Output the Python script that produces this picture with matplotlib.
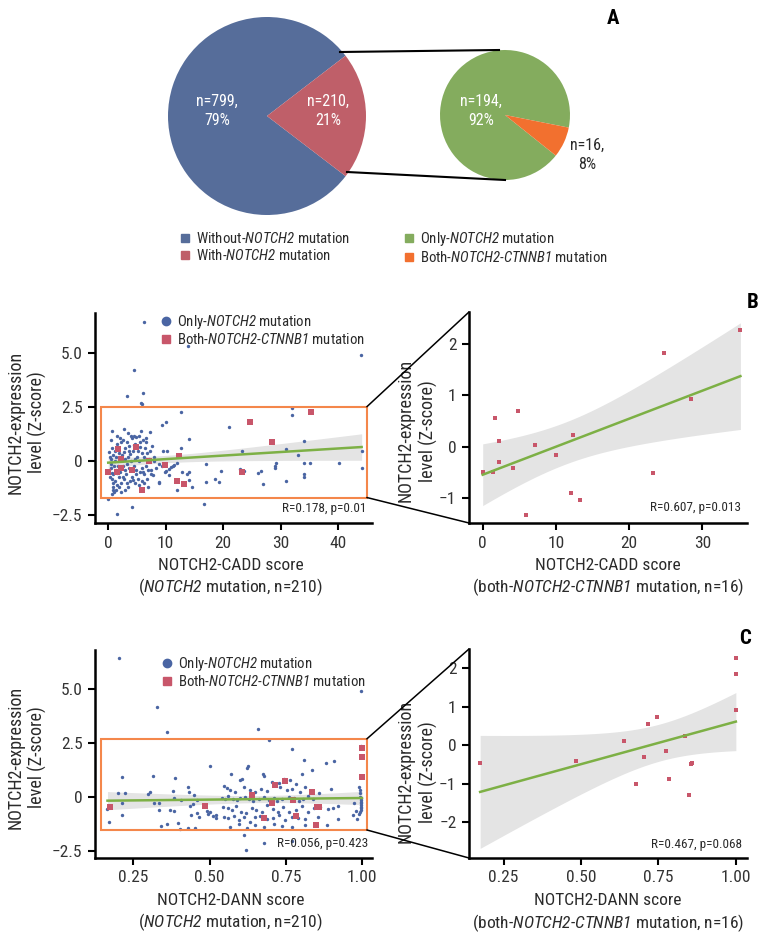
import numpy as np
import matplotlib
matplotlib.use('Agg')
import matplotlib.pyplot as plt
from matplotlib.patches import Rectangle, ConnectionPatch
from matplotlib.lines import Line2D

plt.rcParams['font.family'] = ['Roboto Condensed', 'DejaVu Sans']
plt.rcParams['mathtext.fontset'] = 'custom'
# digits inside \mathit fall back to the rm slot, so point it at the italic face too
plt.rcParams['mathtext.rm'] = 'Roboto Condensed:italic'
plt.rcParams['mathtext.it'] = 'Roboto Condensed:italic'
plt.rcParams['mathtext.bf'] = 'Roboto Condensed:bold'

# ---- panel A : pie data ----
pie_all_n = [799, 210]          # without / with NOTCH2 mutation
pie_sub_n = [194, 16]           # only NOTCH2 / both NOTCH2-CTNNB1
pie_legend = ['Without-$\\mathit{NOTCH2}$ mutation', 'With-$\\mathit{NOTCH2}$ mutation',
              'Only-$\\mathit{NOTCH2}$ mutation', 'Both-$\\mathit{NOTCH2}$-$\\mathit{CTNNB1}$ mutation']

# ---- panel B : CADD score vs expression (only-NOTCH2) ----
cadd_only_x = [0.2, 0.3, 0.4, 0.5, 0.6, 0.7, 0.8, 0.9, 1.0, 0.6, 0.8, 0.3, 0.5, 0.9, 0.7, 0.4, 1.0, 0.2, 0.6, 0.9,
               1.2, 1.3, 1.4, 1.5, 1.6, 1.7, 1.8, 1.9, 1.1, 1.3, 1.6, 1.9, 1.5, 1.2, 1.8,
               2.1, 2.2, 2.3, 2.4, 2.5, 2.6, 2.7, 2.8, 2.9, 3.0, 2.2, 2.5, 2.9, 2.0, 2.7,
               3.1, 3.2, 3.3, 3.4, 3.5, 3.6, 3.7, 3.8, 3.9, 3.5, 3.2, 3.8, 3.0, 3.6,
               4.1, 4.2, 4.3, 4.4, 4.5, 4.6, 4.7, 4.8, 4.9, 4.3, 4.6, 4.9, 4.0, 4.4,
               5.1, 5.2, 5.3, 5.4, 5.5, 5.6, 5.7, 5.8, 5.9, 5.3, 5.0, 5.5, 5.8,
               6.1, 6.2, 6.3, 6.4, 6.5, 6.6, 6.7, 6.8, 6.9, 6.2, 6.5, 6.0,
               7.1, 7.3, 7.5, 7.7, 7.9, 7.4, 7.8, 7.2, 8.0,
               8.3, 8.8, 9.6, 10.2, 9.3, 10.5, 11.2, 9.8,
               6.3, 13.8, 4.4, 3.3, 6.1, 5.7, 5.9, 12.6, 9.4, 10.0, 12.7, 14.0, 21.0, 32.0, 32.0, 34.1, 23.3, 30.9,
               33.1, 44.1, 44.0, 44.1, 40.1, 35.1, 34.1, 29.2, 29.1, 29.0, 34.1, 34.1, 30.9, 27.0, 26.5, 26.1,
               22.9, 23.6, 19.7, 18.5, 19.2, 17.0, 17.0, 16.6, 14.5, 14.0, 13.7, 14.0, 11.9, 11.4, 11.0, 12.9,
               11.9, 10.6, 10.1, 8.8, 8.8, 4.2, 0.0, 1.45, 7.0]
cadd_only_y = [0.45, 0.2, -0.1, -0.3, -0.55, -0.8, -1.0, -1.2, -1.4, -1.5, -1.3, -0.7, 0.1, 0.3, 1.4, 1.0, -0.2, -0.4, 0.6, -0.6,
               -0.9, 0.2, -0.4, 0.8, -1.1, -0.2, 0.4, -0.7, 0.5, -1.3, 1.2, -1.2, -0.55, 0.0, -0.35,
               -0.5, 0.9, -1.0, 0.3, -0.2, 1.0, -0.8, 1.5, -0.4, 0.6, -1.4, -0.7, 0.1, 1.1, 0.45,
               -0.6, 0.9, -1.0, 0.2, 1.3, -0.3, 0.7, -0.9, 1.2, -1.2, -0.1, 0.35, -1.3, 0.5,
               1.1, -0.7, 0.5, -0.2, 1.2, -1.0, 0.8, -0.4, 1.15, -0.85, 0.1, -0.6, 0.0, 0.75,
               0.5, -0.8, 1.2, 0.0, -0.5, 0.9, 1.4, -0.3, 0.4, -1.1, 0.2, 0.65, -0.9,
               1.0, 0.2, -0.6, 0.6, -0.2, 0.9, -0.8, 0.4, -0.4, -1.0, 1.1, -0.5,
               0.1, 1.35, -0.6, 0.7, 0.2, -0.4, -0.65, 0.5, 0.0,
               -0.3, -0.1, 0.5, 0.5, -0.2, -0.35, -0.2, -0.5,
               6.47, 5.35, 4.23, 3.02, 3.19, 2.69, 2.65, 2.27, 1.70, 1.81, 0.60, 1.05, 1.60, 2.47, 2.15, 0.93, 0.49, 0.56,
               0.29, 0.49, 4.92, -0.32, -0.06, -0.06, -0.06, -0.06, -0.22, -0.29, -0.56, -0.71, -0.91, -1.05, -0.45, -0.52,
               -0.37, -0.45, -0.43, -0.82, -0.97, -0.97, -0.14, -1.99, -1.17, -0.48, -0.56, -0.86, -0.09, -0.17, -0.25, -0.48,
               -1.30, -0.62, -0.43, -0.94, -1.02, -2.11, -1.74, -2.45, -1.17]
# both NOTCH2-CTNNB1
cadd_both_x = [0.0, 1.46, 1.74, 2.28, 2.19, 4.1, 4.89, 5.94, 7.08, 9.95, 12.4, 12.05, 13.24, 23.2, 24.7, 28.5, 35.2]
cadd_both_y = [-0.50, -0.50, 0.56, 0.10, -0.31, -0.41, 0.69, -1.33, 0.03, -0.16, 0.23, -0.90, -1.04, -0.51, 1.82, 0.92, 2.27]

# ---- panel C : DANN score vs expression ----
dann_only_x = [0.203, 0.328, 0.359, 0.660, 0.695, 0.772, 0.997, 0.996, 0.998, 0.810, 0.883, 0.908, 0.503, 0.627, 0.622,
               0.835, 0.802, 0.674, 0.678, 0.570, 0.315, 0.212, 0.385, 0.608, 0.601,
               0.200, 0.221, 0.298, 0.303, 0.380, 0.430, 0.434, 0.450, 0.212, 0.319, 0.334, 0.382, 0.405, 0.460, 0.165,
               0.437, 0.447, 0.212, 0.333, 0.371, 0.384, 0.440, 0.459, 0.466, 0.490, 0.495, 0.500, 0.510, 0.520, 0.520,
               0.170, 0.339, 0.361, 0.398, 0.403, 0.430, 0.453,
               0.705, 0.727, 0.743, 0.763, 0.782,
               0.546, 0.557, 0.568, 0.584, 0.612, 0.633, 0.650, 0.668, 0.688, 0.732, 0.754, 0.770, 0.798, 0.814, 0.860, 0.900,
               0.540, 0.551, 0.562, 0.576, 0.590, 0.600, 0.617, 0.631, 0.644, 0.661, 0.677, 0.694, 0.710, 0.720, 0.737,
               0.759, 0.778, 0.792, 0.808, 0.824, 0.841,
               0.544, 0.559, 0.573, 0.588, 0.603, 0.620, 0.639, 0.653, 0.672, 0.688, 0.707, 0.723, 0.742, 0.759, 0.784,
               0.802, 0.822, 0.842, 0.862,
               0.546, 0.562, 0.579, 0.598, 0.614, 0.633, 0.650, 0.666, 0.690, 0.708, 0.728, 0.748, 0.769, 0.791, 0.812, 0.855,
               0.568, 0.595, 0.622, 0.650, 0.680, 0.710, 0.738, 0.771, 0.812, 0.850, 0.885, 0.920,
               0.614, 0.620, 0.680, 0.770,
               0.990, 0.993, 0.995, 0.995, 0.996, 0.996, 0.996, 0.996, 0.996, 0.996, 0.996, 0.996, 0.994, 0.990, 0.985,
               0.980, 0.970, 0.975, 0.920, 0.905, 0.890]
dann_only_y = [6.41, 4.17, 2.98, 3.12, 2.61, 2.19, 4.89, 2.35, 2.28, 1.70, 1.58, 1.67, 1.44, 1.42, 1.33,
               1.24, 1.03, 1.07, 0.96, 1.07, 0.97, 0.93, 0.85, 0.84, 0.76,
               0.19, 0.16, 0.12, 0.20, 0.28, 0.44, 0.24, 0.06, -0.31, -0.28, -0.31, -0.06, -0.15, -0.14, -0.58,
               -0.43, -0.36, -0.83, -0.63, -0.63, -0.68, -0.85, -0.74, -0.96, -0.65, -0.78, -0.72, -0.90, -0.85, -1.00,
               -1.19, -1.36, -1.27, -1.21, -1.50, -1.43, -1.43,
               0.70, 0.64, 0.84, 0.77, 0.61,
               0.50, 0.40, 0.32, 0.24, 0.46, 0.33, 0.22, 0.38, 0.28, 0.46, 0.33, 0.38, 0.22, 0.46, 0.15, 0.35,
               -0.05, -0.12, 0.02, -0.09, -0.15, -0.05, 0.00, -0.09, -0.19, -0.09, 0.00, -0.15, -0.05, -0.22, -0.09,
               0.00, -0.05, -0.19, -0.09, 0.02, -0.09,
               -0.46, -0.54, -0.61, -0.43, -0.69, -0.77, -0.52, -0.63, -0.72, -0.40, -0.58, -0.69, -0.46, -0.72, -0.61,
               -0.43, -0.69, -0.54, -0.46,
               -0.93, -1.00, -0.89, -1.08, -0.96, -1.16, -0.93, -0.89, -1.05, -1.00, -0.86, -1.08, -0.93, -1.00, -1.05, -0.93,
               -1.39, -1.28, -1.46, -1.32, -1.39, -1.28, -1.36, -1.42, -1.33, -1.33, -1.31, -1.05,
               -1.79, -2.48, -2.13, -2.06,
               0.45, 0.30, 0.15, 0.00, -0.08, -0.15, -0.23, -0.31, -0.38, -0.46, -0.54, -0.61, -0.72, -0.82, -1.05,
               -0.65, -0.85, -0.30, -0.45, -0.50, -0.55]
dann_both_x = [0.174, 0.485, 0.639, 0.679, 0.704, 0.716, 0.746, 0.774, 0.783, 0.835, 0.848, 0.854, 0.859, 1.0, 1.0, 1.0]
dann_both_y = [-0.47, -0.41, 0.10, -1.00, -0.30, 0.56, 0.72, -0.14, -0.88, 0.23, -1.29, -0.49, -0.46, 2.26, 1.83, 0.91]

# stats shown on the plots
stat_text = ['R=0.178, p=0.01', 'R=0.607, p=0.013', 'R=0.056, p=0.423', 'R=0.467, p=0.068']

# colours
c_blue, c_red, c_green, c_orange = '#566D9A', '#BF5F69', '#84AC5E', '#F2702F'
c_dot = '#4A65A3'
c_sq = '#C8566A'
c_line = '#7DB045'
c_band = '#E4E4E4'
c_box = '#F4874B'
c_txt = '#2A2A2A'

W, H = 768, 941
fig = plt.figure(figsize=(W / 100, H / 100), dpi=100)


def box(l, t, r, b):
    return [l / W, 1 - b / H, (r - l) / W, (b - t) / H]


# ------------------------------------------------------------ panel A
ax0 = fig.add_axes(box(0, 0, W, 215))
ax0.pie(pie_all_n, colors=[c_blue, c_red], startangle=37.5, center=(267, 99), radius=99,
        wedgeprops=dict(linewidth=0))
ax0.pie(pie_sub_n, colors=[c_green, c_orange], startangle=-11.2, center=(505, 100), radius=65,
        wedgeprops=dict(linewidth=0))
ax0.set_xlim(0, W)
ax0.set_ylim(0, 215)
ax0.set_aspect('auto')
ax0.axis('off')
ax0.plot([340, 499], [215 - 52, 215 - 50], color='black', lw=1.5)
ax0.plot([347, 505], [215 - 172, 215 - 180], color='black', lw=1.5)

tot = sum(pie_all_n)
sub = sum(pie_sub_n)
lab_all = [f'n={n},\n{round(100 * n / tot)}%' for n in pie_all_n]
lab_sub = [f'n={n},\n{round(100 * n / sub)}%' for n in pie_sub_n]
pie_font = dict(ha='center', va='center', fontsize=11.5, linespacing=1.35)
ax0.text(217, 215 - 111, lab_all[0], color='white', **pie_font)
ax0.text(328, 215 - 111, lab_all[1], color='white', **pie_font)
ax0.text(481, 215 - 111, lab_sub[0], color='white', **pie_font)
ax0.text(587, 215 - 155, lab_sub[1], color=c_txt, **pie_font)
fig.text(613 / W, 1 - 18 / H, 'A', fontsize=15, fontweight='bold', ha='center', va='center')

pie_handles = [Line2D([], [], ls='', marker='s', ms=6, color=c) for c in [c_blue, c_red, c_green, c_orange]]
fig.legend(pie_handles, pie_legend, ncol=2, loc='upper left', bbox_to_anchor=(179 / W, 1 - 230 / H),
           frameon=False, fontsize=10.6, handlelength=0.8, handletextpad=0.35, columnspacing=3.6,
           labelspacing=0.12, borderpad=0, borderaxespad=0, labelcolor=c_txt)


# ------------------------------------------------------------ scatter panels
def fit_band(x, y, xs):
    x = np.asarray(x)
    y = np.asarray(y)
    n = len(x)
    b, a = np.polyfit(x, y, 1)
    res = y - (a + b * x)
    s = np.sqrt(np.sum(res ** 2) / (n - 2))
    sxx = np.sum((x - x.mean()) ** 2)
    se = s * np.sqrt(1 / n + (xs - x.mean()) ** 2 / sxx)
    t = 1.97 if n > 100 else 2.13
    yh = a + b * xs
    return yh, yh - t * se, yh + t * se


def style(ax, xlim, ylim, xticks, xtl, yticks, ytl):
    ax.set_xlim(*xlim)
    ax.set_ylim(*ylim)
    ax.set_xticks(xticks)
    ax.set_xticklabels(xtl)
    ax.set_yticks(yticks)
    ax.set_yticklabels(ytl)
    for s in ['top', 'right']:
        ax.spines[s].set_visible(False)
    for s in ['left', 'bottom']:
        ax.spines[s].set_linewidth(1.8)
    ax.tick_params(direction='out', length=5, width=1.5, labelsize=12.5, labelcolor='#333333', pad=4)


def scatter_left(ax, xo, yo, xb, yb):
    ax.scatter(xo, yo, s=6, color=c_dot, lw=0, zorder=3)
    ax.scatter(xb, yb, s=16, marker='s', color=c_sq, lw=0, zorder=3)
    xa = np.concatenate([xo, xb])
    ya = np.concatenate([yo, yb])
    xs = np.linspace(xa.min(), xa.max(), 100)
    yh, lo, hi = fit_band(xa, ya, xs)
    ax.fill_between(xs, lo, hi, color=c_band, lw=0, zorder=1)
    ax.plot(xs, yh, color=c_line, lw=1.8, zorder=4)
    h = [Line2D([], [], ls='', marker='o', ms=6, color=c_dot),
         Line2D([], [], ls='', marker='s', ms=5.5, color=c_sq)]
    return h


def scatter_right(ax, xb, yb):
    ax.scatter(xb, yb, s=7, marker='s', color=c_sq, lw=0, zorder=3)
    xb = np.asarray(xb)
    xs = np.linspace(xb.min(), xb.max(), 100)
    yh, lo, hi = fit_band(xb, yb, xs)
    ax.fill_between(xs, lo, hi, color=c_band, lw=0, zorder=1)
    ax.plot(xs, yh, color=c_line, lw=1.8, zorder=4)


ylab = 'NOTCH2-expression\nlevel (Z-score)'
leg_lab = ['Only-$\\mathit{NOTCH2}$ mutation', 'Both-$\\mathit{NOTCH2}$-$\\mathit{CTNNB1}$ mutation']
ylab_font = dict(fontsize=13, linespacing=1.25, color=c_txt)
xlab_font = dict(fontsize=12.5, linespacing=1.25, color=c_txt)
leg_font = dict(frameon=False, fontsize=10.6, handlelength=1.0, handletextpad=0.25, labelspacing=0.1,
                borderpad=0, borderaxespad=0, labelcolor=c_txt)
stat_size = 9.5

# B left
axB1 = fig.add_axes(box(95, 313, 372, 523))
h = scatter_left(axB1, cadd_only_x, cadd_only_y, cadd_both_x, cadd_both_y)
style(axB1, (-2.3, 45.9), (-2.85, 6.87), [0, 10, 20, 30, 40], ['0', '10', '20', '30', '40'],
      [-2.5, 0, 2.5, 5.0], ['\u22122.5', '0', '2.5', '5.0'])
rectB = Rectangle((-1.27, -1.67), 46.27, 4.2, fill=False, ec=c_box, lw=1.5, zorder=5)
axB1.add_patch(rectB)
axB1.legend(h, leg_lab, loc='upper left', bbox_to_anchor=(0.229, 1.0), **leg_font)
axB1.text(0.981, 0.038, stat_text[0], transform=axB1.transAxes, ha='right', va='bottom', fontsize=stat_size, color=c_txt)
axB1.set_ylabel(ylab, **ylab_font)
axB1.yaxis.set_label_coords(-0.172, 0.48)
axB1.set_xlabel('NOTCH2-CADD score\n($\\mathit{NOTCH2}$ mutation, n=210)', **xlab_font)
axB1.xaxis.set_label_coords(0.49, -0.165)

# B right
axB2 = fig.add_axes(box(469, 312, 747, 523))
scatter_right(axB2, cadd_both_x, cadd_both_y)
style(axB2, (-1.87, 36.1), (-1.49, 2.62), [0, 10, 20, 30], ['0', '10', '20', '30'],
      [-1, 0, 1, 2], ['\u22121', '0', '1', '2'])
axB2.text(0.978, 0.041, stat_text[1], transform=axB2.transAxes, ha='right', va='bottom', fontsize=stat_size, color=c_txt)
axB2.set_ylabel(ylab, **ylab_font)
axB2.yaxis.set_label_coords(-0.112, 0.437)
axB2.set_xlabel('NOTCH2-CADD score\n(both-$\\mathit{NOTCH2}$-$\\mathit{CTNNB1}$ mutation, n=16)', **xlab_font)
axB2.xaxis.set_label_coords(0.5, -0.165)
fig.text(753 / W, 1 - 303 / H, 'B', fontsize=15, fontweight='bold', ha='center', va='center')

for xy_a, xy_b in [((45.0, 2.53), (0, 1)), ((45.0, -1.67), (0, 0))]:
    con = ConnectionPatch(xyA=xy_a, coordsA=axB1.transData, xyB=xy_b, coordsB=axB2.transAxes,
                          color='black', lw=1.1)
    fig.add_artist(con)

# C left
axC1 = fig.add_axes(box(95, 650, 372, 858))
h = scatter_left(axC1, dann_only_x, dann_only_y, dann_both_x, dann_both_y)
style(axC1, (0.124, 1.033), (-2.84, 6.8), [0.25, 0.5, 0.75, 1.0], ['0.25', '0.50', '0.75', '1.00'],
      [-2.5, 0, 2.5, 5.0], ['\u22122.5', '0', '2.5', '5.0'])
rectC = Rectangle((0.143, -1.54), 0.873, 4.22, fill=False, ec=c_box, lw=1.5, zorder=5)
axC1.add_patch(rectC)
axC1.legend(h, leg_lab, loc='upper left', bbox_to_anchor=(0.232, 0.977), **leg_font)
axC1.text(0.987, 0.04, stat_text[2], transform=axC1.transAxes, ha='right', va='bottom', fontsize=stat_size, color=c_txt)
axC1.set_ylabel(ylab, **ylab_font)
axC1.yaxis.set_label_coords(-0.172, 0.484)
axC1.set_xlabel('NOTCH2-DANN score\n($\\mathit{NOTCH2}$ mutation, n=210)', **xlab_font)
axC1.xaxis.set_label_coords(0.49, -0.167)

# C right
axC2 = fig.add_axes(box(469, 649, 747, 858))
scatter_right(axC2, dann_both_x, dann_both_y)
style(axC2, (0.138, 1.036), (-2.92, 2.49), [0.25, 0.5, 0.75, 1.0], ['0.25', '0.50', '0.75', '1.00'],
      [-2, -1, 0, 1, 2], ['\u22122', '\u22121', '0', '1', '2'])
axC2.text(0.983, 0.035, stat_text[3], transform=axC2.transAxes, ha='right', va='bottom', fontsize=stat_size, color=c_txt)
axC2.set_ylabel(ylab, **ylab_font)
axC2.yaxis.set_label_coords(-0.112, 0.413)
axC2.set_xlabel('NOTCH2-DANN score\n(both-$\\mathit{NOTCH2}$-$\\mathit{CTNNB1}$ mutation, n=16)', **xlab_font)
axC2.xaxis.set_label_coords(0.5, -0.167)
fig.text(745 / W, 1 - 639 / H, 'C', fontsize=15, fontweight='bold', ha='center', va='center')

for xy_a, xy_b in [((1.016, 2.68), (0, 1)), ((1.016, -1.54), (0, 0))]:
    con = ConnectionPatch(xyA=xy_a, coordsA=axC1.transData, xyB=xy_b, coordsB=axC2.transAxes,
                          color='black', lw=1.1)
    fig.add_artist(con)

fig.savefig('out.png', dpi=100)
